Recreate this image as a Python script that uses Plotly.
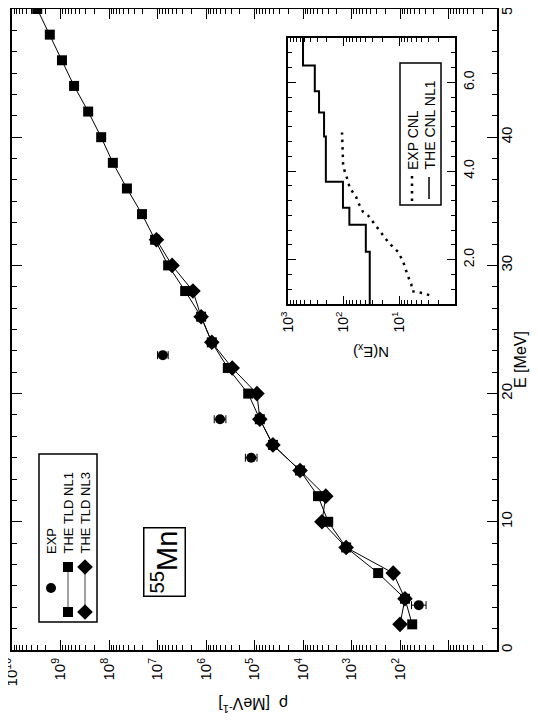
import plotly.graph_objects as go

# ---- main panel: level density of 55Mn ----
e_tld = [2, 4, 6, 8, 10, 12, 14, 16, 18, 20, 22, 24, 26, 28, 30, 32,
         34, 36, 38, 40, 42, 44, 46, 48, 50]
rho_nl1 = [56, 79, 282, 1290, 3020, 4900, 11500, 41700, 77600, 1.35e5,
           3.55e5, 7.59e5, 1.26e6, 2.69e6, 6.03e6, 1.12e7, 2.09e7, 4.27e7,
           8.32e7, 1.45e8, 2.69e8, 5.25e8, 9.33e8, 1.66e9, 3.02e9]
e_nl3 = [2, 4, 6, 8, 10, 12, 14, 16, 18, 20, 22, 24, 26, 28, 30, 32]
rho_nl3 = [100, 79, 138, 1290, 4070, 3390, 11500, 41700, 77600, 89100,
           2.88e5, 7.59e5, 1.26e6, 1.86e6, 5.01e6, 1.05e7]
e_exp = [3.5, 15, 18, 23]
rho_exp = [41, 1.17e5, 5.13e5, 7.76e6]
err_exp_dex = [0.15, 0.12, 0.12, 0.11]

# ---- inset: cumulative number of levels ----
e_cnl_nl1 = [1.0, 2.18, 2.79, 3.17, 3.76, 4.78, 5.32, 5.80, 6.38, 7.0]
n_cnl_nl1 = [34, 40, 79, 103, 209, 225, 277, 330, 537, 537]
e_cnl_exp = [1.2, 1.25, 1.29, 1.45, 1.66, 1.84, 2.0, 2.18, 2.27, 2.38, 2.49,
             2.72, 2.86, 2.99, 3.08, 3.29, 3.42, 3.62, 3.76, 3.92, 4.10, 4.87]
n_cnl_exp = [2.9, 3.9, 5.9, 6.1, 7.2, 7.9, 8.9, 10.6, 12.6, 15.5, 18, 25, 29.5,
             36, 45, 55, 60, 78, 83, 91, 102, 107]

FONT = "Liberation Sans, Arial, Helvetica, sans-serif"
OFF = 8                      # page body margin; positions below are page pixels
W, H = 538 - OFF, 722 - OFF
PL, PR, PT, PB = 12, 497, 9, 650  # plot frame in page pixels


def px(x):
    return (x - PL) / (PR - PL)


def py(y):
    return (PB - y) / (PB - PT)


def log_minor(lo, hi):
    return [m * 10 ** k for k in range(lo, hi) for m in range(2, 10)]


err_plus = [r * (10 ** d - 1) for r, d in zip(rho_exp, err_exp_dex)]
err_minus = [r * (1 - 10 ** -d) for r, d in zip(rho_exp, err_exp_dex)]

fig = go.Figure()

fig.add_trace(go.Scatter(
    x=rho_nl1, y=e_tld, mode="lines+markers",
    line=dict(color="black", width=1),
    marker=dict(symbol="square", size=10, color="black"),
    xaxis="x", yaxis="y", showlegend=False))
fig.add_trace(go.Scatter(
    x=rho_nl3, y=e_nl3, mode="lines+markers",
    line=dict(color="black", width=1),
    marker=dict(symbol="diamond", size=12, color="black"),
    xaxis="x", yaxis="y", showlegend=False))
fig.add_trace(go.Scatter(
    x=rho_exp, y=e_exp, mode="markers",
    marker=dict(symbol="circle", size=10, color="black"),
    error_x=dict(type="data", array=err_plus, arrayminus=err_minus,
                 color="black", thickness=1, width=4),
    xaxis="x", yaxis="y", showlegend=False))

# inset
fig.add_trace(go.Scatter(
    x=n_cnl_nl1, y=e_cnl_nl1, mode="lines", line_shape="vh",
    line=dict(color="black", width=2),
    xaxis="x2", yaxis="y2", showlegend=False))
fig.add_trace(go.Scatter(
    x=n_cnl_exp, y=e_cnl_exp, mode="lines",
    line=dict(color="black", width=2.5, dash="2.5px,5px"),
    xaxis="x2", yaxis="y2", showlegend=False))

# legend keys drawn on a pixel-space overlay axis
fig.add_trace(go.Scatter(
    x=[68, 68], y=[567, 612], mode="lines+markers",
    line=dict(color="#444", width=1),
    marker=dict(symbol="square", size=10, color="black"),
    xaxis="x3", yaxis="y3", showlegend=False, hoverinfo="skip"))
fig.add_trace(go.Scatter(
    x=[85, 85], y=[567, 612], mode="lines+markers",
    line=dict(color="#444", width=1),
    marker=dict(symbol="diamond", size=12, color="black"),
    xaxis="x3", yaxis="y3", showlegend=False, hoverinfo="skip"))
fig.add_trace(go.Scatter(
    x=[51], y=[588], mode="markers",
    marker=dict(symbol="circle", size=10, color="black"),
    xaxis="x3", yaxis="y3", showlegend=False, hoverinfo="skip"))
fig.add_trace(go.Scatter(
    x=[412, 412], y=[176, 201], mode="lines",
    line=dict(color="black", width=2.5, dash="2.5px,5px"),
    xaxis="x3", yaxis="y3", showlegend=False, hoverinfo="skip"))
fig.add_trace(go.Scatter(
    x=[429, 429], y=[177, 199], mode="lines",
    line=dict(color="black", width=1.5),
    xaxis="x3", yaxis="y3", showlegend=False, hoverinfo="skip"))

main_ticks = [10 ** k for k in range(0, 11)]
main_text = ["", ""] + ["10<sup>%d</sup>" % k for k in range(2, 11)]
inset_ticks = [1, 10, 100, 1000]
inset_text = ["", "10<sup>1</sup>", "10<sup>2</sup>", "10<sup>3</sup>"]

axis_common = dict(showline=True, linecolor="black", mirror="ticks",
                   ticks="inside", tickcolor="black", showgrid=False,
                   zeroline=False, tickangle=-90, automargin=False,
                   ticklabeloverflow="allow")

fig.update_layout(
    template="none",
    width=W, height=H,
    margin=dict(l=PL - OFF, r=538 - PR, t=PT - OFF, b=722 - PB,
                autoexpand=False),
    paper_bgcolor="white", plot_bgcolor="rgba(0,0,0,0)",
    font=dict(family=FONT, color="black"),
    xaxis=dict(type="log", range=[10, 0], domain=[0, 1], anchor="y",
               tickmode="array", tickvals=main_ticks, ticktext=main_text,
               ticklen=10, tickwidth=1, linewidth=2,
               tickfont=dict(size=15),
               minor=dict(ticks="inside", ticklen=5, tickcolor="black",
                          tickmode="array", tickvals=log_minor(0, 10)),
               **axis_common),
    yaxis=dict(range=[0, 50], domain=[0, 1], anchor="x", side="right",
               dtick=10, tick0=0, ticklen=10, tickwidth=1, linewidth=2,
               tickfont=dict(size=15), ticklabelstandoff=-5,
               minor=dict(ticks="inside", ticklen=5, tickcolor="black",
                          dtick=10 / 6, tick0=0),
               **axis_common),
    xaxis2=dict(type="log", range=[3, 0], domain=[px(288), px(455)],
                anchor="y2", tickmode="array", tickvals=inset_ticks,
                ticktext=inset_text, ticklen=8, tickwidth=1, linewidth=2,
                tickfont=dict(size=14),
                minor=dict(ticks="inside", ticklen=4, tickcolor="black",
                           tickmode="array", tickvals=log_minor(0, 3)),
                **axis_common),
    yaxis2=dict(range=[1, 7], domain=[py(304), py(38)], anchor="x2",
                side="right", tickmode="array", tickvals=[2, 4, 6],
                ticktext=["2.0", "4.0", "6.0"], ticklen=8, tickwidth=1,
                linewidth=2, tickfont=dict(size=14),
                minor=dict(ticks="inside", ticklen=4, tickcolor="black",
                           dtick=1 / 3, tick0=1),
                **axis_common),
    xaxis3=dict(range=[PL, PR], domain=[0, 1], anchor="y3", visible=False,
                fixedrange=True, automargin=False),
    yaxis3=dict(range=[PB, PT], domain=[0, 1], anchor="x3", visible=False,
                fixedrange=True, automargin=False),
)

# legend boxes
fig.add_shape(type="rect", xref="x3", yref="y3", x0=39, x1=97, y0=454, y1=622,
              line=dict(color="black", width=1.5), layer="below")
fig.add_shape(type="rect", xref="x3", yref="y3", x0=400, x1=441, y0=63, y1=205,
              line=dict(color="black", width=1.5), layer="below")

ann = []


def label(text, x, y, angle=-90, size=13, xanchor="center", yanchor="middle",
          **kw):
    ann.append(dict(text=text, x=px(x), y=py(y), xref="paper", yref="paper",
                    showarrow=False, textangle=angle,
                    xanchor=xanchor, yanchor=yanchor,
                    font=dict(size=size, family=FONT, color="black"), **kw))


label("EXP", 51, 556, yanchor="bottom")
label("THE TLD NL1", 68, 556, yanchor="bottom")
label("THE TLD NL3", 85, 556, yanchor="bottom")
label("EXP CNL", 413, 172, size=14, yanchor="bottom")
label("THE CNL NL1", 429, 172, size=14, yanchor="bottom")
label("ρ  [MeV<sup>-1</sup>]", 253, 705, angle=180, size=16)
label("E [MeV]", 520, 360, size=16)
label("N(E<sub>x</sub>)", 371, 352, angle=180, size=15)
label("<sup>55</sup>Mn", 164, 562, size=29, bordercolor="black",
      borderwidth=1.5, borderpad=2, bgcolor="white")

fig.update_layout(annotations=ann)

fig.write_html("out.html")
